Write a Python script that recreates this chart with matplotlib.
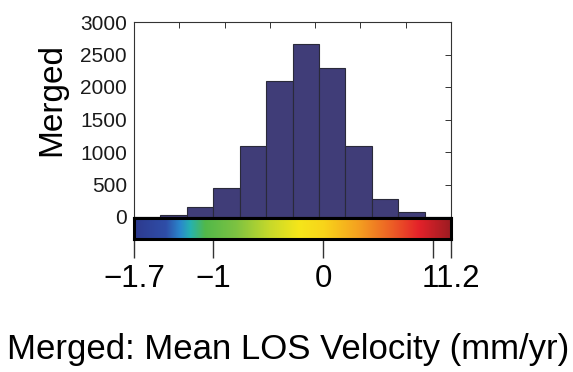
import numpy as np
import matplotlib
matplotlib.use("Agg")
import matplotlib.pyplot as plt
from matplotlib.colors import LinearSegmentedColormap

plt.rcParams["font.family"] = ["Liberation Sans", "DejaVu Sans"]

# histogram counts per colour bin (12 bins spanning the colour bar)
counts = [0, 30, 160, 450, 1100, 2090, 2660, 2290, 1090, 280, 70, 0]
y_ticks = [0, 500, 1000, 1500, 2000, 2500, 3000]
cbar_tick_labels = ["\u22121.7", "\u22121", "0", "", "11.2"]
x_label = "Merged: Mean LOS Velocity (mm/yr)"
y_label = "Merged"

# colour stops of the (non-linear) colour bar
cmap_stops = [
    (0.00, "#2d3a8e"), (0.10, "#2f4ea8"), (0.145, "#2a88cc"), (0.177, "#26b2b0"),
    (0.224, "#52b84a"), (0.32, "#7cc242"), (0.43, "#c8d92a"), (0.52, "#f5e61a"),
    (0.60, "#f8d41a"), (0.71, "#f4a020"), (0.82, "#ec5a26"), (0.90, "#e4222a"),
    (1.00, "#9c1c22"),
]

W, H = 573, 372
fig = plt.figure(figsize=(W / 100, H / 100), dpi=100)

n = len(counts)
ax = fig.add_axes([134 / W, (H - 217) / H, 317 / W, 195 / H])
ax.bar(np.arange(n) + 0.5, counts, width=1.0, color="#403d78", edgecolor="#2a2a3a", linewidth=0.8)
ax.set_xlim(0, n)
ax.set_ylim(0, 3000)
ax.set_yticks(y_ticks)
ax.tick_params(axis="y", labelsize=15, pad=5, labelcolor="#1a1a1a")
ax.yaxis.set_tick_params(which="major", direction="in", length=4, width=0.7,
                         right=True, left=False, color="#333333")
ax.set_xticks(np.linspace(0, n, 8))
ax.tick_params(axis="x", top=True, bottom=False, labelbottom=False, direction="in",
               length=4, width=0.7, color="#333333")
for side in ax.spines.values():
    side.set_linewidth(0.8)
    side.set_color("#333333")
ax.set_ylabel(y_label, fontsize=24)
ax.yaxis.set_label_coords(-0.21, 0.6)

cax = fig.add_axes([134 / W, (H - 239) / H, 317 / W, 21 / H])
cmap = LinearSegmentedColormap.from_list("vel", cmap_stops)
grad = np.linspace(0, 1, 512)[None, :]
cax.imshow(grad, aspect="auto", cmap=cmap, extent=[0, n, 0, 1])
cax.set_xlim(0, n)
cax.set_yticks([])
cax.set_xticks([0, 3.0, 7.16, 11.3, 12])
cax.set_xticklabels(cbar_tick_labels, fontsize=22.5)
cax.tick_params(axis="x", length=14, width=1.0, pad=4, color="#333333")
for side in cax.spines.values():
    side.set_linewidth(2.2)
    side.set_color("black")

fig.text(288 / W, 1 - 349 / H, x_label, fontsize=25, ha="center", va="center")

fig.savefig("out.png", dpi=100)
